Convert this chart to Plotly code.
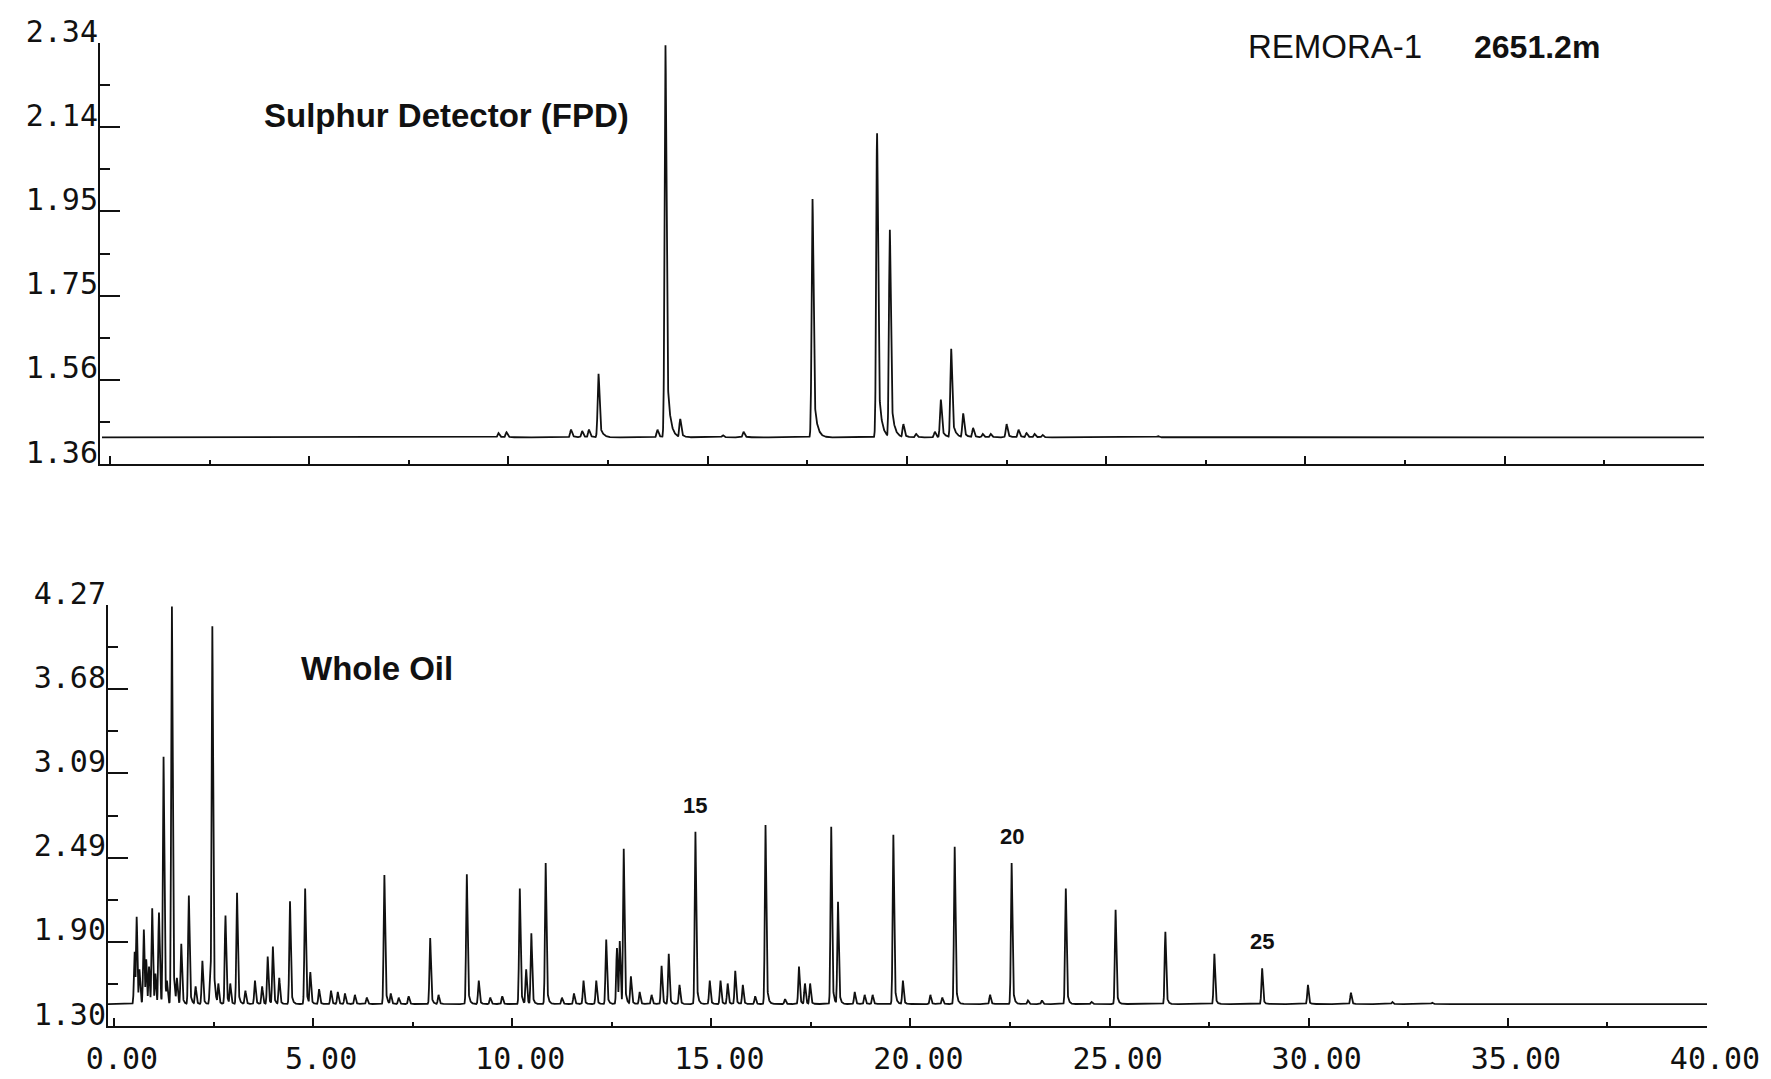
import numpy as np
import plotly.graph_objects as go

# ---- Sulphur detector (FPD) trace: retention time [min] and apex response ----
fpd_time = [9.75, 9.95, 11.57, 11.85, 12.02, 12.26, 13.74, 13.94, 14.31, 15.38,
            15.90, 17.63, 19.25, 19.57, 19.91, 20.23, 20.70, 20.85, 21.11, 21.41,
            21.66, 21.90, 22.10, 22.50, 22.80, 23.00, 23.20, 23.40, 26.30]
fpd_peak = [1.432, 1.434, 1.440, 1.437, 1.440, 1.570, 1.440, 2.335, 1.465, 1.427,
            1.435, 1.977, 2.130, 1.905, 1.453, 1.430, 1.435, 1.510, 1.628, 1.478,
            1.444, 1.430, 1.430, 1.453, 1.440, 1.432, 1.430, 1.428, 1.425]
fpd_baseline = 1.422

# ---- Whole oil (FID) trace: retention time [min] and apex response ----
oil_time = [0.52, 0.57, 0.64, 0.75, 0.81, 0.88, 0.96, 1.04, 1.13, 1.245,
            1.33, 1.455, 1.58, 1.69, 1.88, 2.05, 2.22, 2.42, 2.47, 2.62,
            2.80, 2.92, 3.09, 3.30, 3.54, 3.72, 3.86, 3.99, 4.15, 4.42,
            4.80, 4.93, 5.15, 5.45, 5.62, 5.80, 6.05, 6.35, 6.79, 6.95,
            7.15, 7.40, 7.94, 8.15, 8.86, 9.16, 9.45, 9.75, 10.19, 10.35,
            10.48, 10.84, 11.25, 11.55, 11.79, 12.11, 12.36, 12.63, 12.70, 12.80,
            12.98, 13.20, 13.50, 13.75, 13.93, 14.20, 14.60, 14.96, 15.23, 15.41,
            15.60, 15.79, 16.10, 16.36, 16.85, 17.20, 17.35, 17.48, 18.01, 18.18,
            18.60, 18.85, 19.05, 19.57, 19.81, 20.50, 20.80, 21.11, 22.00, 22.54,
            22.95, 23.30, 23.90, 24.55, 25.15, 25.75, 26.40, 27.63, 28.83, 29.98,
            31.06, 32.10, 33.10]
oil_peak = [1.824, 2.07, 1.70, 1.98, 1.77, 1.72, 2.13, 1.67, 2.10, 3.20,
            1.62, 4.26, 1.64, 1.88, 2.22, 1.58, 1.76, 1.69, 4.12, 1.60,
            2.08, 1.60, 2.24, 1.55, 1.62, 1.58, 1.79, 1.86, 1.64, 2.18,
            2.27, 1.68, 1.56, 1.55, 1.54, 1.53, 1.52, 1.50, 2.365, 1.53,
            1.50, 1.51, 1.92, 1.52, 2.37, 1.62, 1.50, 1.51, 2.27, 1.70,
            1.954, 2.45, 1.50, 1.53, 1.62, 1.62, 1.91, 1.85, 1.90, 2.55,
            1.65, 1.54, 1.52, 1.725, 1.81, 1.59, 2.67, 1.62, 1.62, 1.60,
            1.69, 1.59, 1.51, 2.718, 1.49, 1.72, 1.60, 1.60, 2.706, 2.177,
            1.54, 1.52, 1.52, 2.65, 1.62, 1.52, 1.50, 2.565, 1.52, 2.45,
            1.48, 1.48, 2.27, 1.47, 2.12, 1.46, 1.965, 1.81, 1.707, 1.59,
            1.535, 1.47, 1.465]
oil_baseline = 1.455

# n-alkane carbon numbers marked over their peaks
carbon_number = ["15", "20", "25"]
carbon_time = [14.60, 22.54, 28.83]

# ---- axis ticks ----
x_ticks = [0, 5, 10, 15, 20, 25, 30, 35, 40]
x_ticklabels = ["0.00", "5.00", "10.00", "15.00", "20.00", "25.00", "30.00", "35.00", "40.00"]
fpd_yticks = [1.36, 1.556, 1.752, 1.948, 2.144, 2.34]
fpd_yticklabels = ["1.36", "1.56", "1.75", "1.95", "2.14", "2.34"]
oil_yticks = [1.30, 1.894, 2.488, 3.082, 3.676, 4.27]
oil_yticklabels = ["1.30", "1.90", "2.49", "3.09", "3.68", "4.27"]


def chromatogram(t, times, peaks, base, sigma, tail):
    """Narrow, slightly tailing peak profiles on a flat baseline."""
    sig = np.full_like(t, base)
    for tc, h in zip(times, peaks):
        dt = t - tc
        g = np.exp(-0.5 * (dt / sigma) ** 2)
        tl = np.exp(-np.clip(dt, 0, None) / tail)
        prof = np.where(dt < 0, g, 0.7 * g + 0.3 * tl)
        sig = np.maximum(sig, base + (h - base) * prof)
    return sig


t_fpd = np.linspace(-0.2, 40.0, 16081)
t_oil = np.linspace(-0.15, 40.0, 16061)
y_fpd = chromatogram(t_fpd, fpd_time, fpd_peak, fpd_baseline, 0.022, 0.07)
y_oil = chromatogram(t_oil, oil_time, oil_peak, oil_baseline, 0.018, 0.035)

W, H = 1771, 1079
ink = "#111111"
mono = dict(family="DejaVu Sans Mono", size=30, color=ink)

fig = go.Figure()
fig.add_trace(go.Scatter(x=t_fpd, y=y_fpd, mode="lines", xaxis="x", yaxis="y",
                         line=dict(color=ink, width=1.8), hoverinfo="skip"))
fig.add_trace(go.Scatter(x=t_oil, y=y_oil, mode="lines", xaxis="x2", yaxis="y2",
                         line=dict(color=ink, width=1.8), hoverinfo="skip"))

xcommon = dict(tickmode="array", tickvals=x_ticks, ticks="inside", ticklen=8,
               tickwidth=2, tickcolor=ink, showline=True, linecolor=ink, linewidth=2,
               showgrid=False, zeroline=False, automargin=False,
               minor=dict(dtick=2.5, ticks="inside", ticklen=4, tickwidth=2, tickcolor=ink))
# y tick labels sit just above their tick, tight against the axis line
ycommon = dict(tickmode="array", ticks="inside", ticklen=20, tickwidth=2, tickcolor=ink,
               showline=True, linecolor=ink, linewidth=2, showgrid=False, zeroline=False,
               automargin=False, tickfont=mono, ticklabelshift=-12, ticklabelstandoff=-6)


def midpoints(v):
    return [(a + b) / 2 for a, b in zip(v[:-1], v[1:])]


fig.update_layout(
    width=W, height=H, autosize=False,
    margin=dict(l=0, r=0, t=0, b=0, autoexpand=False),
    paper_bgcolor="white", plot_bgcolor="white",
    showlegend=False,
    xaxis=dict(xcommon, domain=[100 / W, 1704 / W], range=[-0.25, 40],
               anchor="y", showticklabels=False),
    yaxis=dict(ycommon, domain=[(H - 464) / H, (H - 43) / H], range=[1.36, 2.34],
               anchor="x", tickvals=fpd_yticks, ticktext=fpd_yticklabels,
               minor=dict(tickmode="array", tickvals=midpoints(fpd_yticks), ticks="inside",
                          ticklen=10, tickwidth=2, tickcolor=ink)),
    xaxis2=dict(xcommon, domain=[108 / W, 1707 / W], range=[-0.15, 40],
                anchor="y2", ticktext=x_ticklabels, tickfont=mono,
                ticklabelshift=8, ticklabelstandoff=5),
    yaxis2=dict(ycommon, domain=[(H - 1026) / H, (H - 605) / H], range=[1.30, 4.27],
                anchor="x2", tickvals=oil_yticks, ticktext=oil_yticklabels,
                minor=dict(tickmode="array", tickvals=midpoints(oil_yticks), ticks="inside",
                           ticklen=10, tickwidth=2, tickcolor=ink)),
)

sans = "Liberation Sans"
annotations = [
    dict(text="<b>Sulphur Detector (FPD)</b>", x=262 / W, y=1 - 115 / H,
         xref="paper", yref="paper", xanchor="left", yanchor="middle",
         showarrow=False, font=dict(family=sans, size=33, color=ink)),
    dict(text="REMORA-1", x=1246 / W, y=1 - 47 / H,
         xref="paper", yref="paper", xanchor="left", yanchor="middle",
         showarrow=False, font=dict(family=sans, size=33, color=ink)),
    dict(text="<b>2651.2m</b>", x=1472 / W, y=1 - 47 / H,
         xref="paper", yref="paper", xanchor="left", yanchor="middle",
         showarrow=False, font=dict(family=sans, size=32, color=ink)),
    dict(text="<b>Whole Oil</b>", x=299 / W, y=1 - 668 / H,
         xref="paper", yref="paper", xanchor="left", yanchor="middle",
         showarrow=False, font=dict(family=sans, size=33, color=ink)),
]
for label, tc in zip(carbon_number, carbon_time):
    h = oil_peak[oil_time.index(tc)]
    annotations.append(dict(text="<b>%s</b>" % label, x=tc, y=h, xref="x2", yref="y2",
                            xanchor="center", yanchor="bottom", yshift=12,
                            showarrow=False, font=dict(family=sans, size=22, color=ink)))
fig.update_layout(annotations=annotations)

fig.write_html("out.html")
